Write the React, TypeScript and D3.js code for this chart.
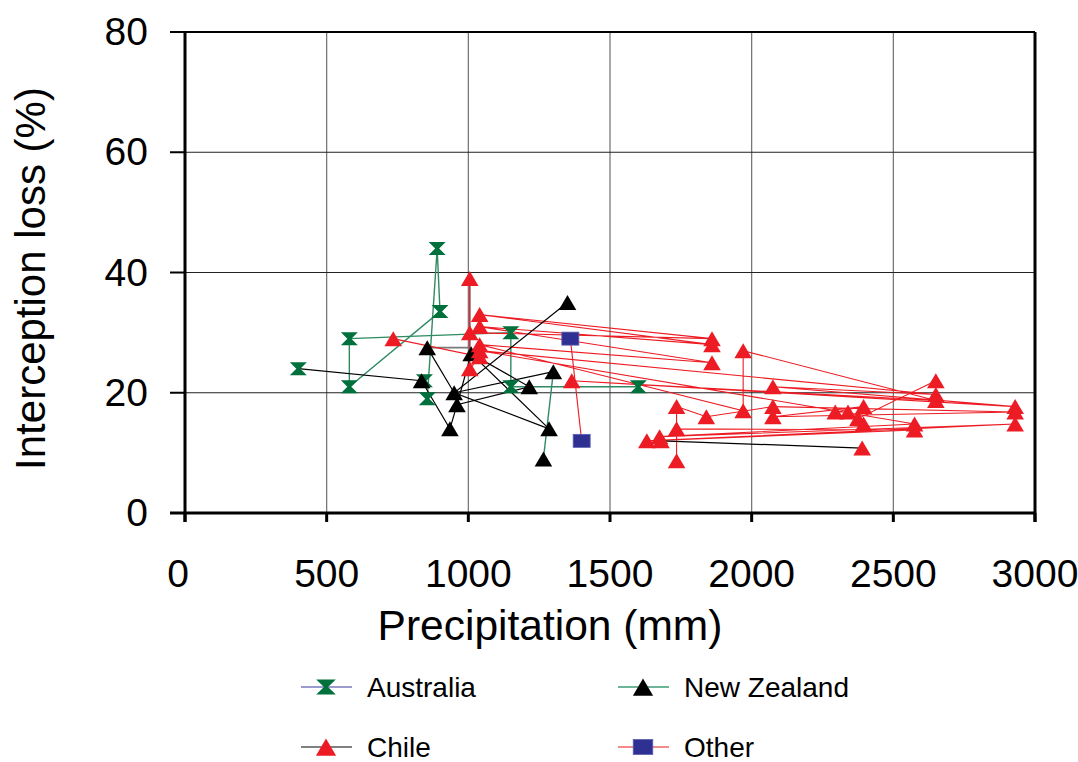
import React from "react";
import * as d3 from "d3";

type P = [number, number];

// Marker positions (precipitation mm, interception loss %)
const australiaPoints: P[] = [
  [400, 24], [580, 29], [580, 21], [890, 44], [900, 33.5], [845, 22], [855, 19],
  [1150, 30], [1150, 21], [1600, 21],
];
const newZealandPoints: P[] = [
  [855, 27.5], [835, 22], [950, 20], [960, 18], [935, 14], [1010, 26.5],
  [1350, 35], [1300, 23.5], [1215, 21], [1285, 14], [1265, 9],
];
const chilePoints: P[] = [
  [735, 29], [1040, 26], [1005, 24], [1005, 39], [1005, 30], [1860, 29], [1040, 33],
  [1860, 28], [1040, 31], [1860, 25], [1040, 28], [1970, 17], [1970, 27], [2650, 18.7],
  [1365, 22], [2930, 17.7], [2075, 21], [2650, 19.7], [1040, 27], [2575, 14.8],
  [1675, 12.7], [2930, 14.8], [1630, 12], [2575, 13.8], [1735, 14], [1735, 8.7],
  [1735, 17.7], [1840, 16], [2075, 17.7], [2930, 16.8], [2075, 16], [2395, 17.7],
  [2295, 16.8], [2340, 16.8], [2395, 14.8], [2375, 15.7], [2650, 22], [1680, 12],
  [2390, 10.8],
];
const otherPoints: P[] = [[1360, 29], [1400, 12]];

// Connecting lines as drawn in the source (ordered polylines)
const greenLines: P[][] = [
  [[580, 21], [580, 29], [1150, 30], [1150, 21], [1600, 21]],
  [[580, 21], [900, 33.5], [890, 44], [855, 19]],
  [[1300, 23.5], [1265, 9]],
];
const blackLines: P[][] = [
  [[400, 24], [835, 22], [935, 14], [960, 18], [1215, 21], [1010, 26.5], [1285, 14], [950, 20], [1350, 35]],
  [[950, 20], [855, 27.5]],
  [[950, 20], [1300, 23.5]],
  [[960, 18], [1010, 26.5]],
  [[1680, 12], [2390, 10.8]],
];
const redLines: P[][] = [
  chilePoints.slice(0, 37),
  [[1360, 29], [1400, 12]],
];
const greyLines: P[][] = [[[855, 27.5], [1005, 27.5], [1005, 39]]];

const xTicks = [0, 500, 1000, 1500, 2000, 2500, 3000];
const yTicks = [0, 20, 40, 60, 80];
const legendItems = ["Australia", "New Zealand", "Chile", "Other"];

const FONT = "'Liberation Sans', Arial, sans-serif";
const GREEN = "#00703c";
const GREEN_LINE = "#2f8a62";
const RED = "#ed1c24";
const BLUE = "#2e3192";

function Marker({ kind, x, y, s = 1 }: { kind: string; x: number; y: number; s?: number }) {
  if (kind === "bowtie") {
    const w = 8.5 * s, h = 6.5 * s;
    return (
      <path
        d={`M${x - w},${y - h}L${x + w},${y - h}L${x + 2},${y}L${x + w},${y + h}L${x - w},${y + h}L${x - 2},${y}Z`}
        fill={GREEN}
      />
    );
  }
  if (kind === "square") {
    return (
      <rect x={x - 8.5 * s} y={y - 6.5 * s} width={17 * s} height={13 * s} fill={BLUE} stroke="#5a5db0" strokeWidth={0.8} />
    );
  }
  const fill = kind === "tri-black" ? "#000" : RED;
  const w = 8.8 * s, h = 7.5 * s;
  return <path d={`M${x},${y - h}L${x + w},${y + h}L${x - w},${y + h}Z`} fill={fill} />;
}

export default function App() {
  const left = 185, right = 1035, top = 32, bottom = 513;
  const x = d3.scaleLinear().domain([0, 3000]).range([left, right]);
  const y = d3.scaleLinear().domain([0, 80]).range([bottom, top]);
  const line = d3.line<P>().x((d) => x(d[0])).y((d) => y(d[1]));

  const legendPos = [
    { lx: 301, ly: 687, lineColor: "#9b9bd0", kind: "bowtie" },
    { lx: 618, ly: 687, lineColor: "#6db597", kind: "tri-black" },
    { lx: 301, ly: 747, lineColor: "#808080", kind: "tri-red" },
    { lx: 618, ly: 747, lineColor: "#f28b8b", kind: "square" },
  ];

  return (
    <svg width={1078} height={762} style={{ position: "absolute", left: 0, top: 0, background: "#fff" }}>
      <rect width={1078} height={762} fill="#fff" />
      {/* grid */}
      {xTicks.slice(1, -1).map((t) => (
        <line key={"gx" + t} x1={x(t)} x2={x(t)} y1={top} y2={bottom} stroke="#6e6e6e" strokeWidth={1.2} />
      ))}
      {yTicks.slice(1, -1).map((t) => (
        <line key={"gy" + t} x1={left} x2={right} y1={y(t)} y2={y(t)} stroke="#222" strokeWidth={1.2} />
      ))}
      {/* frame */}
      <line x1={left} x2={right} y1={top} y2={top} stroke="#000" strokeWidth={2} />
      <line x1={right} x2={right} y1={top} y2={bottom + 9} stroke="#000" strokeWidth={3} />
      <line x1={left} x2={left} y1={top} y2={bottom + 9} stroke="#000" strokeWidth={3} />
      <line x1={left - 15} x2={right} y1={bottom} y2={bottom} stroke="#000" strokeWidth={3} />
      {/* ticks */}
      {xTicks.map((t) => (
        <line key={"tx" + t} x1={x(t)} x2={x(t)} y1={bottom} y2={bottom + 9} stroke="#000" strokeWidth={3} />
      ))}
      {yTicks.map((t) => (
        <line key={"ty" + t} x1={left - 15} x2={left} y1={y(t)} y2={y(t)} stroke="#000" strokeWidth={2} />
      ))}
      {xTicks.map((t) => (
        <text key={"lx" + t} x={x(t) - (t === 0 ? 7 : 0)} y={587} fontFamily={FONT} fontSize={39} textAnchor="middle" fill="#000">
          {t}
        </text>
      ))}
      {yTicks.map((t) => (
        <text key={"ly" + t} x={148} y={y(t) + 13} fontFamily={FONT} fontSize={39} textAnchor="end" fill="#000">
          {t}
        </text>
      ))}
      <text x={550} y={640} fontFamily={FONT} fontSize={42.5} textAnchor="middle" fill="#000">
        Precipitation (mm)
      </text>
      <text
        transform={`translate(45,${(top + bottom) / 2 + 6}) rotate(-90)`}
        fontFamily={FONT}
        fontSize={42}
        textAnchor="middle"
        fill="#000"
      >
        Interception loss (%)
      </text>

      {/* lines */}
      {greyLines.map((l, i) => (
        <path key={"gr" + i} d={line(l) || ""} fill="none" stroke="#7a7a7a" strokeWidth={1.6} />
      ))}
      {greenLines.map((l, i) => (
        <path key={"g" + i} d={line(l) || ""} fill="none" stroke={GREEN_LINE} strokeWidth={1.4} />
      ))}
      {redLines.map((l, i) => (
        <path key={"r" + i} d={line(l) || ""} fill="none" stroke={RED} strokeWidth={1.1} />
      ))}
      {blackLines.map((l, i) => (
        <path key={"b" + i} d={line(l) || ""} fill="none" stroke="#000" strokeWidth={1.2} />
      ))}

      {/* markers */}
      {australiaPoints.map((p, i) => (
        <Marker key={"a" + i} kind="bowtie" x={x(p[0])} y={y(p[1])} />
      ))}
      {newZealandPoints.map((p, i) => (
        <Marker key={"n" + i} kind="tri-black" x={x(p[0])} y={y(p[1])} />
      ))}
      {chilePoints.map((p, i) => (
        <Marker key={"c" + i} kind="tri-red" x={x(p[0])} y={y(p[1])} />
      ))}
      {otherPoints.map((p, i) => (
        <Marker key={"o" + i} kind="square" x={x(p[0])} y={y(p[1])} />
      ))}

      {/* legend */}
      {legendItems.map((name, i) => {
        const L = legendPos[i];
        return (
          <g key={name}>
            <line x1={L.lx} x2={L.lx + 51} y1={L.ly} y2={L.ly} stroke={L.lineColor} strokeWidth={2} />
            <Marker kind={L.kind} x={L.lx + 25} y={L.ly} s={1.15} />
            <text x={L.lx + 66} y={L.ly + 10} fontFamily={FONT} fontSize={28} fill="#000">
              {name}
            </text>
          </g>
        );
      })}
    </svg>
  );
}
